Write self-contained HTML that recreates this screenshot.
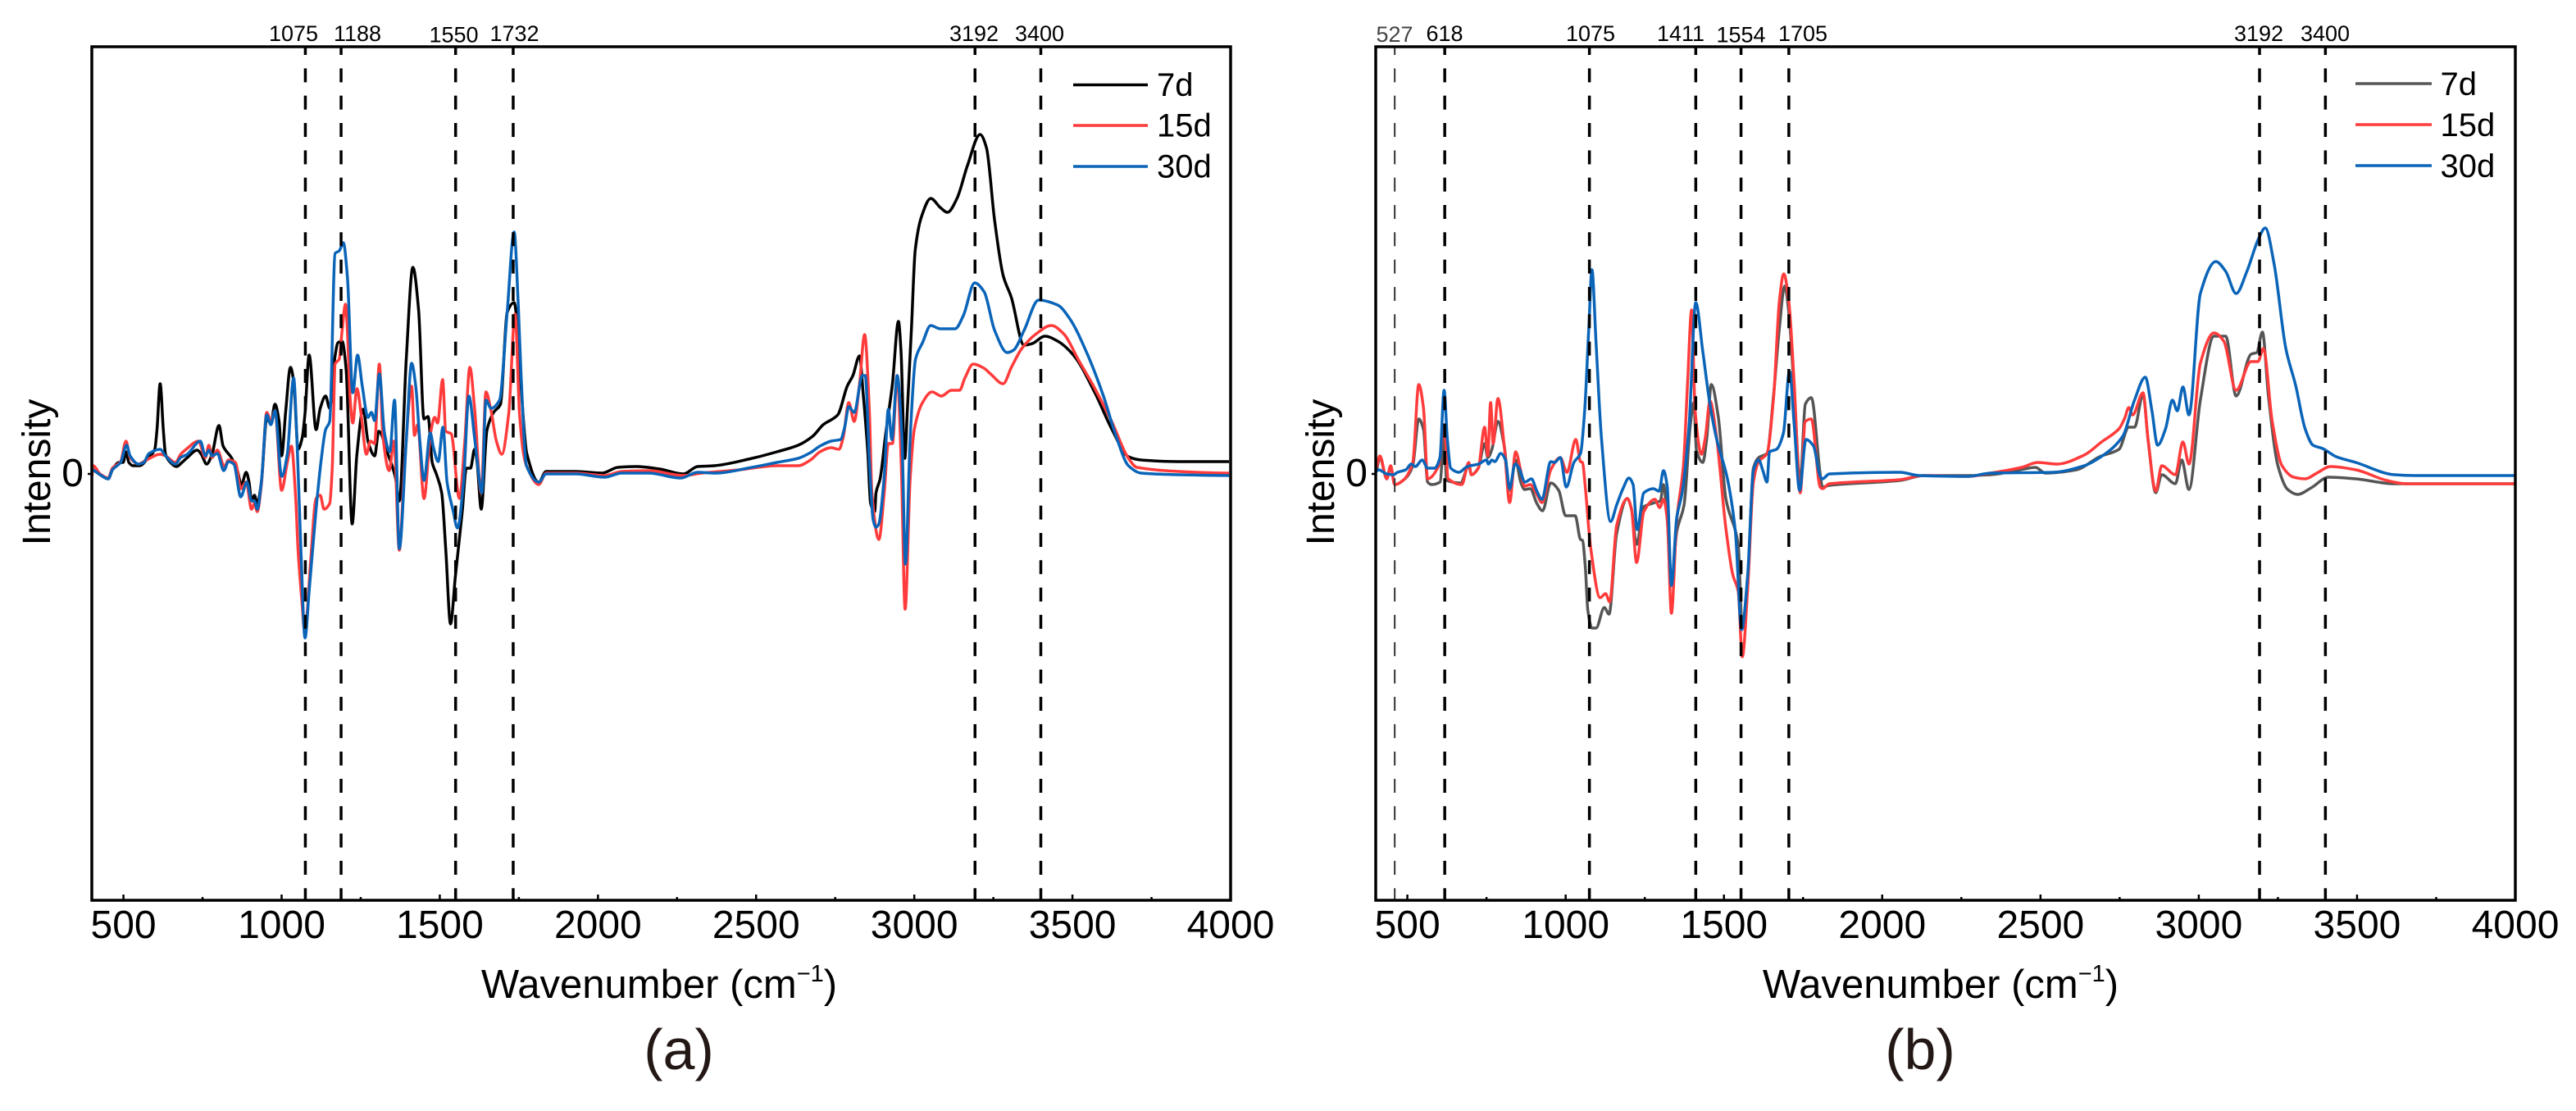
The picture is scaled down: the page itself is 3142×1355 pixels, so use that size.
<!DOCTYPE html>
<html lang="en">
<head>
<meta charset="utf-8">
<title>Difference spectra (a) and (b)</title>
<style>
html,body{margin:0;padding:0;background:#fff;}
svg{display:block;}
text{font-family:"Liberation Sans",Arial,sans-serif;fill:#000;}
</style>
</head>
<body>
<svg id="figure" xmlns="http://www.w3.org/2000/svg" width="3142" height="1355" viewBox="0 0 3142 1355">
  <rect x="0" y="0" width="3142" height="1355" fill="#ffffff"/>

  <g id="panel-a">
    <g id="a-curves"></g>
    <g id="a-markers"></g>
    <rect x="112" y="57" width="1389" height="1041" fill="none" stroke="#000" stroke-width="3.5"/>
    <g id="a-axes"></g>
    <g font-size="27" text-anchor="middle">
      <text x="358" y="50">1075</text>
      <text x="436" y="50">1188</text>
      <text x="553.5" y="51.5">1550</text>
      <text x="627.5" y="50">1732</text>
      <text x="1188" y="50">3192</text>
      <text x="1268" y="50">3400</text>
    </g>
    <g>
      <line x1="1309" x2="1400" y1="103.5" y2="103.5" stroke="#000" stroke-width="3.4"/>
      <line x1="1309" x2="1400" y1="153" y2="153" stroke="#ff3b3b" stroke-width="3.4"/>
      <line x1="1309" x2="1400" y1="203" y2="203" stroke="#0a64b8" stroke-width="3.4"/>
      <text x="1411" y="117" font-size="40">7d</text>
      <text x="1411" y="166.5" font-size="40">15d</text>
      <text x="1411" y="216.5" font-size="40">30d</text>
    </g>
    <text font-size="48" text-anchor="middle" transform="translate(61,576) rotate(-90)">Intensity</text>
    <text font-size="49" text-anchor="middle" x="804" y="1217">Wavenumber (cm<tspan font-size="29" dy="-20">−1</tspan><tspan dy="20">)</tspan></text>
    <text font-size="70" text-anchor="middle" x="828" y="1304" style="fill:#231815">(a)</text>
  </g>

  <g id="panel-b">
    <g id="b-curves"></g>
    <g id="b-markers"></g>
    <rect x="1678" y="57" width="1390" height="1041" fill="none" stroke="#000" stroke-width="3.5"/>
    <g id="b-axes"></g>
    <g font-size="27" text-anchor="middle">
      <text x="1701" y="51" style="fill:#444">527</text>
      <text x="1762" y="50">618</text>
      <text x="1940" y="50">1075</text>
      <text x="2050" y="50">1411</text>
      <text x="2123.5" y="51.5">1554</text>
      <text x="2199" y="50">1705</text>
      <text x="2755" y="50">3192</text>
      <text x="2836" y="50">3400</text>
    </g>
    <g>
      <line x1="2873" x2="2966" y1="102" y2="102" stroke="#555" stroke-width="3.4"/>
      <line x1="2873" x2="2966" y1="152" y2="152" stroke="#ff3b3b" stroke-width="3.4"/>
      <line x1="2873" x2="2966" y1="202" y2="202" stroke="#0a64b8" stroke-width="3.4"/>
      <text x="2976.5" y="116" font-size="40">7d</text>
      <text x="2976.5" y="166" font-size="40">15d</text>
      <text x="2976.5" y="216" font-size="40">30d</text>
    </g>
    <text font-size="48" text-anchor="middle" transform="translate(1627,576) rotate(-90)">Intensity</text>
    <text font-size="49" text-anchor="middle" x="2367" y="1217">Wavenumber (cm<tspan font-size="29" dy="-20">−1</tspan><tspan dy="20">)</tspan></text>
    <text font-size="70" text-anchor="middle" x="2342" y="1304" style="fill:#231815">(b)</text>
  </g>
</svg>

<script>
// Shared axis values
const xTickValues = [500, 1000, 1500, 2000, 2500, 3000, 3500, 4000];
const xMinorTickValues = [750, 1250, 1750, 2250, 2750, 3250, 3750];
const yTickValues = [0];

// Peak marker wavenumbers
const aMarkerWn = [1075, 1188, 1550, 1732, 3192, 3400];
const bMarkerWn = [618, 1075, 1411, 1554, 1705, 3192, 3400];
const bThinMarkerWn = [460];

// Panel (a) 7d
const aWn7d = [400,426,452,465,486,499,508,517,530,551,577,599,606,616,626,633,646,668,685,702,733,746,763,780,802,815,841,858,873,888,897,905,914,923,936,953,966,979,992,1000,1013,1028,1039,1052,1065,1074,
1087,1109,1122,1139,1152,1169,1178,1191,1204,1223,1238,1258,1273,1294,1307,1338,1359,1372,1394,1415,1433,1450,1463,1476,1489,1506,1519,1534,1549,1571,1584,1597,1610,1618,1631,1649,1670,1692,1713,1735,1748,1757,
1775,1813,1836,1930,2013,2063,2121,2195,2270,
2315,2368,2487,2566,2633,2679,2712,2758,2788,2806,2827,2838,2853,2862,2875,2879,2892,2909,2931,2950,2958,2970,2978,2991,3003,3023,3052,3082,3105,3135,3168,3208,3228,3254,3281,3307,3347,3373,3413,3453,3505,3571,3624,3677,3717,3836,3995];
const aInt7d = [5,-1,-6,5,14,14,27,14,10,10,19,30,54,110,54,24,15,9,14,20,29,24,12,24,59,34,20,7,-13,2,-10,-33,-26,-36,-10,67,62,85,64,22,77,130,110,30,44,74,
145,54,80,95,80,144,160,162,127,-61,24,79,40,22,52,22,-3,-33,140,252,200,67,70,14,0,-23,-93,-183,-126,-46,7,7,30,14,-43,53,75,85,197,209,167,107,
25,-10,3,3,1,8,9,6,0,
9,10,19,27,35,46,60,72,107,120,144,100,27,-36,-46,-23,-6,47,110,186,150,19,77,177,273,314,336,325,319,336,376,414,398,309,242,215,157,159,168,162,144,99,55,21,17,15,15];

// Panel (a) 15d
const aWn15d = [400,404,426,452,465,491,508,521,547,573,616,633,664,681,698,737,759,770,780,797,819,832,854,871,888,905,914,923,936,953,966,979,1000,1018,1031,1044,1052,1065,1072,
1078,1091,1109,1122,1134,1152,1160,1169,1182,1191,1202,1208,1217,1225,1238,1251,1268,1281,1294,1309,1320,1340,1355,1372,1389,1411,1420,1430,1450,1471,1484,1493,1509,1519,1536,1562,1579,1595,1610,1631,1646,1662,1679,1696,1718,1738,1752,1765,1774,1813,1836,1930,2021,2075,2160,2270,2328,
2447,2566,2633,2672,2702,2737,2762,2775,2793,2810,2827,2843,2858,2866,2888,2905,2918,2931,2946,2959,2971,2987,3000,3026,3056,3086,3117,3143,3160,3186,3220,3241,3281,3307,3340,3386,3433,3472,3519,3571,3624,3677,3704,3836,3995];
const aInt15d = [-3,10,0,-5,7,15,40,20,12,17,24,22,14,24,30,40,20,35,20,29,9,17,14,-18,-10,-43,-36,-46,-13,75,64,77,-20,14,34,-26,-93,-160,-190,
-180,-110,-30,-26,-43,-36,7,134,140,174,207,174,90,62,104,74,24,40,37,134,47,4,40,-93,14,107,47,60,-30,50,69,62,115,52,49,-30,40,130,80,-23,100,77,40,24,74,195,74,24,10,-13,1,1,-2,3,4,-2,1,
5,10,10,17,27,32,30,44,87,64,110,170,77,-23,-80,-23,37,37,120,10,-165,-6,54,87,100,95,102,102,117,134,129,122,110,130,153,171,181,171,139,104,64,19,8,3,1];

// Panel (a) 30d
const aWn30d = [400,426,452,465,491,510,521,547,564,581,616,633,664,681,702,743,759,770,780,797,817,832,849,871,890,905,914,923,936,953,966,979,1000,1018,1038,1048,1061,1074,
1087,1109,1126,1139,1152,1169,1182,1195,1208,1225,1240,1255,1273,1284,1294,1309,1325,1342,1357,1372,1394,1411,1424,1437,1450,1470,1480,1495,1510,1523,1541,1556,1575,1592,1610,1618,1633,1646,1662,1689,1713,1735,1748,1757,1774,1813,1836,1930,2021,2075,2160,2262,2315,2368,2487,2566,2633,2672,2702,2737,2767,2780,2793,2810,2836,2845,2858,2870,2879,2888,2905,2918,2929,2946,2961,2972,2987,3004,3026,3052,3082,3129,3155,3191,3221,3254,3294,3314,3347,3393,3453,3492,3545,3598,3638,3677,3717,3836,3995];
const aInt30d = [5,-1,-6,5,14,35,22,12,14,25,30,22,12,20,24,40,22,29,22,25,4,15,12,-28,-10,-33,-33,-43,-10,72,60,77,-3,24,117,47,-93,-200,
-143,-43,20,54,64,269,272,282,240,99,145,107,69,75,65,122,50,27,90,-91,40,135,107,40,-8,50,32,15,57,-10,-43,-66,-10,95,44,17,-23,90,80,90,197,295,207,120,10,-10,0,0,-4,1,1,-5,2,1,8,14,19,26,34,40,42,57,82,75,120,120,17,-56,-65,-61,-3,79,42,120,44,-110,44,140,160,181,177,177,193,233,222,175,148,151,175,212,206,189,148,95,46,10,1,-1,-2];

// Panel (b) 7d
const bWn7d = [400,413,435,447,460,495,517,536,551,564,577,603,616,624,668,694,702,724,744,754,767,786,806,823,842,858,870,888,909,927,953,978,1000,1030,1047,1053,1062,1070,1083,1096,1122,1137,1161,1195,1208,1224,1247,1282,1299,1309,1321,1334,1351,1374,1394,1405,1413,1433,1446,1460,1482,1506,1545,1558,1575,1593,1610,1636,1657,1675,1692,1705,1722,1741,1757,1776,1804,1811,1833,2056,2131,2270,2343,2448,2484,2515,2613,2687,2748,2779,2797,2824,2840,2864,2883,2926,2946,2969,3005,3048,3085,3118,3165,3183,3201,3220,3250,3281,3312,3355,3410,3496,3618,3998];
const bInt7d = [3,20,-6,9,-13,-5,10,67,54,-10,-13,-10,44,-8,-11,10,-1,7,37,20,30,64,34,-20,17,-10,-19,-18,-36,-45,-11,-20,-51,-51,-80,-81,-113,-166,-188,-188,-163,-171,-73,-30,-43,-86,-40,-35,-33,-13,-56,-136,-70,-38,60,87,29,14,44,109,70,-30,-86,-188,-130,7,20,25,97,177,229,197,100,-10,85,93,0,-16,-14,-8,-2,-2,-1,6,8,1,5,21,30,57,57,97,41,-23,-1,-12,17,-19,90,168,168,95,146,148,173,95,10,-19,-25,-17,-4,-6,-12,-12];

// Panel (b) 15d
const bWn15d = [400,413,435,447,460,486,517,536,551,564,599,616,629,672,694,702,724,744,754,763,771,786,806,823,842,858,870,888,909,925,953,983,1004,1032,1047,1053,1062,1079,1109,1126,1139,1161,1195,1208,1224,1247,1282,1297,1309,1321,1334,1351,1372,1385,1398,1409,1429,1441,1456,1476,1506,1528,1545,1558,1575,1593,1610,1636,1657,1675,1689,1705,1722,1741,1757,1776,1804,1811,1833,2056,2131,2270,2343,2441,2491,2552,2638,2693,2748,2766,2779,2791,2824,2840,2864,2883,2926,2950,2969,3005,3048,3079,3118,3165,3187,3204,3232,3263,3300,3336,3373,3416,3496,3594,3655,3998];
const bInt15d = [7,22,-6,10,-13,-8,14,109,80,-6,10,60,-6,-13,14,-1,7,57,22,87,37,92,34,-35,27,4,-15,-13,-25,-35,5,20,2,42,15,14,-16,-90,-151,-146,-156,-63,-30,-43,-108,-46,-31,-41,-31,-56,-170,-56,10,110,200,77,24,44,89,47,-66,-123,-143,-223,-140,-10,15,25,94,210,244,210,110,-23,64,67,-16,-18,-12,-7,-2,-3,1,8,14,12,23,39,55,68,81,72,99,41,-21,10,-1,39,12,135,172,162,102,137,137,153,64,10,-4,-6,1,9,5,-8,-12,-12];

// Panel (b) 30d
const bWn30d = [400,409,435,456,469,495,512,525,547,564,586,603,616,626,637,663,689,724,750,756,767,776,795,810,823,840,853,871,892,909,925,953,965,983,1002,1026,1047,1060,1073,1083,1096,1113,1142,1161,1181,1200,1213,1226,1247,1277,1295,1309,1321,1334,1351,1368,1390,1411,1433,1455,1476,1511,1536,1556,1575,1593,1610,1623,1636,1644,1666,1688,1707,1722,1739,1759,1783,1804,1811,1833,2056,2116,2270,2343,2540,2638,2699,2760,2797,2831,2852,2870,2895,2917,2932,2950,2969,3005,3054,3085,3118,3152,3189,3210,3238,3275,3306,3336,3361,3391,3434,3496,3618,3680,3998];
const bInt30d = [3,5,0,-1,2,5,12,9,17,7,7,20,102,44,7,2,9,12,17,12,17,15,25,17,-18,12,7,-10,-6,-21,-31,15,14,20,-16,14,25,77,177,249,160,44,-58,-38,-18,-5,-13,-68,-23,-18,-21,4,-16,-136,-53,-23,60,209,150,87,44,-6,-70,-190,-123,4,17,4,-10,27,30,50,125,60,-20,42,34,-3,-6,0,2,-2,-3,1,2,10,23,46,90,118,77,35,55,90,77,106,72,220,259,247,220,247,287,300,256,153,108,55,35,31,21,14,-1,-2,-2];

const NS = 'http://www.w3.org/2000/svg';
const plotTop = 57;
const plotBottom = 1098;
const domainX = [400, 4000];
const domainY = [-520, 521];

function makeX(left, right) {
  return function (v) { return left + (v - domainX[0]) * (right - left) / (domainX[1] - domainX[0]); };
}
function yScale(v) {
  return plotBottom - (v - domainY[0]) * (plotBottom - plotTop) / (domainY[1] - domainY[0]);
}

// Monotone cubic path through the data points (keeps peaks at their read values)
function curvePath(wn, values, xFn) {
  const n = Math.min(wn.length, values.length);
  const xs = [], ys = [];
  for (let i = 0; i < n; i++) { xs.push(xFn(wn[i])); ys.push(yScale(values[i])); }
  const m = new Array(n).fill(0);
  for (let i = 1; i < n - 1; i++) {
    const s0 = (ys[i] - ys[i - 1]) / (xs[i] - xs[i - 1]);
    const s1 = (ys[i + 1] - ys[i]) / (xs[i + 1] - xs[i]);
    m[i] = s0 * s1 <= 0 ? 0 : 2 * s0 * s1 / (s0 + s1);
  }
  let d = 'M' + xs[0].toFixed(2) + ' ' + ys[0].toFixed(2);
  for (let i = 0; i < n - 1; i++) {
    const h = (xs[i + 1] - xs[i]) / 3;
    d += 'C' + (xs[i] + h).toFixed(2) + ' ' + (ys[i] + m[i] * h).toFixed(2) + ' ' +
      (xs[i + 1] - h).toFixed(2) + ' ' + (ys[i + 1] - m[i + 1] * h).toFixed(2) + ' ' +
      xs[i + 1].toFixed(2) + ' ' + ys[i + 1].toFixed(2);
  }
  return d;
}

function addCurve(groupId, wn, values, xFn, color, name) {
  const p = document.createElementNS(NS, 'path');
  p.setAttribute('d', curvePath(wn, values, xFn));
  p.setAttribute('fill', 'none');
  p.setAttribute('stroke', color);
  p.setAttribute('stroke-width', '3.5');
  p.setAttribute('stroke-linejoin', 'round');
  
  
  document.getElementById(groupId).appendChild(p);
}

function addMarker(groupId, wn, xFn, width, color) {
  const l = document.createElementNS(NS, 'line');
  const x = xFn(wn);
  l.setAttribute('x1', x);
  l.setAttribute('x2', x);
  l.setAttribute('y1', plotTop);
  l.setAttribute('y2', plotBottom);
  l.setAttribute('stroke', color);
  l.setAttribute('stroke-width', width);
  l.setAttribute('stroke-dasharray', '17 16.33');
  l.setAttribute('stroke-dashoffset', '7');
  
  
  document.getElementById(groupId).appendChild(l);
}

function drawAxes(groupId, xFn, frameLeft) {
  const g = document.getElementById(groupId);
  xTickValues.forEach(function (v) {
    const t = document.createElementNS(NS, 'line');
    t.setAttribute('x1', xFn(v));
    t.setAttribute('x2', xFn(v));
    t.setAttribute('y1', plotBottom);
    t.setAttribute('y2', plotBottom - 7);
    t.setAttribute('stroke', '#000');
    t.setAttribute('stroke-width', '2.5');
    
    
    g.appendChild(t);
    const lab = document.createElementNS(NS, 'text');
    lab.setAttribute('x', xFn(v));
    lab.setAttribute('y', 1144);
    lab.setAttribute('font-size', '48');
    lab.setAttribute('text-anchor', 'middle');
    
    
    lab.textContent = String(v);
    g.appendChild(lab);
  });
  xMinorTickValues.forEach(function (v) {
    const t = document.createElementNS(NS, 'line');
    t.setAttribute('x1', xFn(v));
    t.setAttribute('x2', xFn(v));
    t.setAttribute('y1', plotBottom);
    t.setAttribute('y2', plotBottom - 4);
    t.setAttribute('stroke', '#000');
    t.setAttribute('stroke-width', '2.5');
    
    
    g.appendChild(t);
  });
  yTickValues.forEach(function (v) {
    const t = document.createElementNS(NS, 'line');
    t.setAttribute('x1', frameLeft - 5);
    t.setAttribute('x2', frameLeft);
    t.setAttribute('y1', yScale(v));
    t.setAttribute('y2', yScale(v));
    t.setAttribute('stroke', '#000');
    t.setAttribute('stroke-width', '2.5');
    
    
    g.appendChild(t);
    const lab = document.createElementNS(NS, 'text');
    lab.setAttribute('x', frameLeft - 10);
    lab.setAttribute('y', yScale(v) + 15);
    lab.setAttribute('font-size', '48');
    lab.setAttribute('text-anchor', 'end');
    
    
    lab.textContent = String(v);
    g.appendChild(lab);
  });
}

const xA = makeX(112, 1501);
const xB = makeX(1678, 3068);

addCurve('a-curves', aWn7d, aInt7d, xA, '#000000', 'series-7d-curve');
addCurve('a-curves', aWn15d, aInt15d, xA, '#ff3b3b', 'series-15d-curve');
addCurve('a-curves', aWn30d, aInt30d, xA, '#0a64b8', 'series-30d-curve');
addCurve('b-curves', bWn7d, bInt7d, xB, '#555555', 'series-7d-curve');
addCurve('b-curves', bWn15d, bInt15d, xB, '#ff3b3b', 'series-15d-curve');
addCurve('b-curves', bWn30d, bInt30d, xB, '#0a64b8', 'series-30d-curve');

aMarkerWn.forEach(function (w) { addMarker('a-markers', w, xA, 3.5, '#000'); });
bMarkerWn.forEach(function (w) { addMarker('b-markers', w, xB, 3.5, '#000'); });
bThinMarkerWn.forEach(function (w) { addMarker('b-markers', w, xB, 2, '#333'); });

drawAxes('a-axes', xA, 112);
drawAxes('b-axes', xB, 1678);
</script>
</body>
</html>
